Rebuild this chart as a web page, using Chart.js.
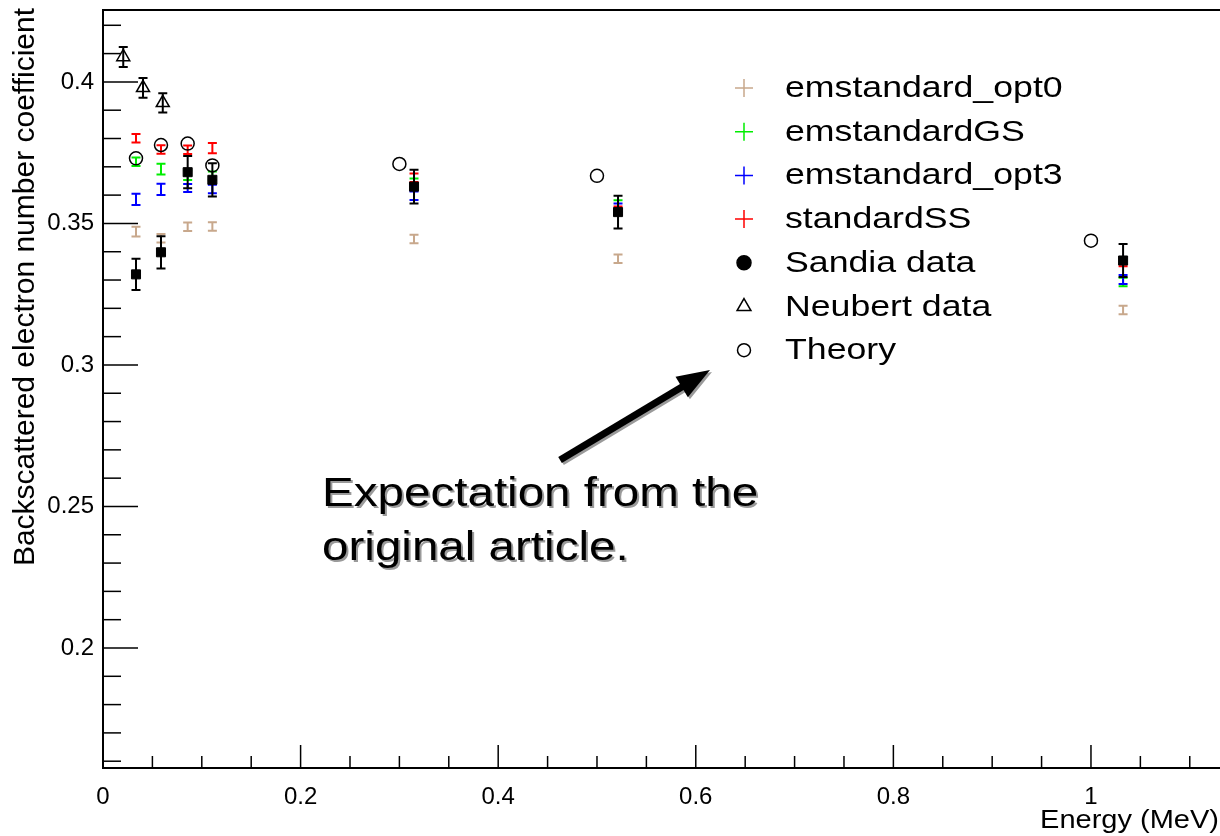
<!DOCTYPE html>
<html>
<head>
<meta charset="utf-8">
<script src="https://cdn.jsdelivr.net/npm/chart.js@4.4.1/dist/chart.umd.min.js"></script>
<style>
  body { margin: 0; background: #fff; }
  #wrap { width: 1220px; height: 836px; }
</style>
</head>
<body>
<div id="wrap"><canvas id="backscatter" width="1220" height="836"></canvas></div>
<script>
// beam energies (MeV) of the Sandia points, the simulations were run at the same energies
const energies = [0.0334, 0.0587, 0.0857, 0.1107, 0.3148, 0.5213, 1.0325];

const opt0 = [0.3471, 0.3448, 0.3488, 0.3489, 0.3445, 0.3375, 0.3194];
const opt0Err = [0.0017, 0.0015, 0.0015, 0.0015, 0.0015, 0.0015, 0.0015];

const gs = [0.3718, 0.3692, 0.3670, 0.3668, 0.3644, 0.3567, 0.3293];
const gsErr = [0.0015, 0.0019, 0.0017, 0.0015, 0.0015, 0.0015, 0.0015];

const opt3 = [0.3585, 0.3620, 0.3625, 0.3622, 0.3598, 0.3555, 0.3302];
const opt3Err = [0.0020, 0.0020, 0.0014, 0.0015, 0.0015, 0.0015, 0.0016];

const ss = [0.3801, 0.3761, 0.3760, 0.3766, 0.3661, 0.3545, 0.3364];
const ssErr = [0.0015, 0.0015, 0.0015, 0.0018, 0.0015, 0.0015, 0.0015];

const sandia = [0.3320, 0.3398, 0.3681, 0.3654, 0.3630, 0.3540, 0.3369];
const sandiaErr = [0.0055, 0.0057, 0.0057, 0.0059, 0.0060, 0.0058, 0.0058];

const neubertEnergies = [0.0205, 0.0405, 0.0605];
const neubert = [0.4088, 0.3979, 0.3926];
const neubertErr = [0.0035, 0.0035, 0.0034];

const theoryEnergies = [0.0334, 0.0587, 0.0857, 0.1107, 0.3, 0.5, 1.0];
const theory = [0.3730, 0.3777, 0.3782, 0.3705, 0.3710, 0.3668, 0.3439];

const xTickLabels = ['0', '0.2', '0.4', '0.6', '0.8', '1'];
const yTickLabels = ['0.2', '0.25', '0.3', '0.35', '0.4'];

// axis ranges
const X_MIN = 0, X_MAX = 1.1306;
const Y_MIN = 0.1576, Y_MAX = 0.4254;

const FONT = '"Liberation Sans", Arial, Helvetica, sans-serif';
const CAP = 4.5;     // half width of error bar caps

function pts(xs, ys) {
  return xs.map((x, i) => ({ x: x, y: ys[i] }));
}

// text with an optional horizontal stretch (sx), rotated text is never stretched
function wideText(ctx, str, x, y, size, sx, align, base, rot) {
  ctx.save();
  ctx.translate(x, y);
  if (rot) ctx.rotate(rot);
  else ctx.scale(sx, 1);
  ctx.font = size + 'px ' + FONT;
  ctx.textAlign = align;
  ctx.textBaseline = base;
  ctx.fillText(str, 0, 0);
  ctx.restore();
}

function label(v) {
  return String(+v.toFixed(3));
}

// vertical error bars with caps, drawn under each dataset's markers
const errorBars = {
  id: 'errorBars',
  beforeDatasetDraw(chart, args) {
    const ds = chart.data.datasets[args.index];
    if (!ds.errors) return;
    const ctx = chart.ctx, x = chart.scales.x, y = chart.scales.y;
    ctx.save();
    ctx.strokeStyle = ds.barColor;
    ctx.lineWidth = 2;
    ds.data.forEach((p, i) => {
      const px = x.getPixelForValue(p.x);
      const top = y.getPixelForValue(p.y + ds.errors[i]);
      const bot = y.getPixelForValue(p.y - ds.errors[i]);
      ctx.beginPath();
      ctx.moveTo(px, top); ctx.lineTo(px, bot);
      ctx.moveTo(px - CAP, top); ctx.lineTo(px + CAP, top);
      ctx.moveTo(px - CAP, bot); ctx.lineTo(px + CAP, bot);
      ctx.stroke();
    });
    ctx.restore();
  }
};

// ROOT style frame: inward ticks, top line, labels and titles
const frame = {
  id: 'frame',
  afterDraw(chart) {
    const ctx = chart.ctx, a = chart.chartArea;
    const x = chart.scales.x, y = chart.scales.y;
    ctx.save();
    ctx.strokeStyle = '#000';
    ctx.fillStyle = '#000';
    ctx.lineWidth = 2;
    ctx.beginPath();
    ctx.moveTo(a.left, a.top); ctx.lineTo(a.right, a.top);
    ctx.stroke();

    ctx.lineWidth = 1.5;
    y.ticks.forEach(t => {
      const py = y.getPixelForValue(t.value);
      const major = yTickLabels.includes(label(t.value));
      ctx.beginPath();
      ctx.moveTo(a.left, py); ctx.lineTo(a.left + (major ? 35 : 18), py);
      ctx.stroke();
      if (major) wideText(ctx, label(t.value), 94, py, 24, 1, 'right', 'middle');
    });
    x.ticks.forEach(t => {
      const px = x.getPixelForValue(t.value);
      const major = xTickLabels.includes(label(t.value));
      ctx.beginPath();
      ctx.moveTo(px, a.bottom); ctx.lineTo(px, a.bottom - (major ? 23 : 12));
      ctx.stroke();
      if (major) wideText(ctx, label(t.value), px, 797, 24, 1, 'center', 'middle');
    });

    wideText(ctx, 'Energy (MeV)', 1219, 821, 25, 1.16, 'right', 'middle');
    wideText(ctx, 'Backscattered electron number coefficient', 26, 8, 30, 1, 'right', 'middle', -Math.PI / 2);
    ctx.restore();
  }
};

// legend in the upper right of the plot
const legendBox = {
  id: 'legendBox',
  afterDraw(chart) {
    const ctx = chart.ctx;
    chart.data.datasets.forEach((ds, i) => {
      const cy = 88 + i * 43.7;
      ctx.save();
      ctx.strokeStyle = ds.barColor;
      ctx.fillStyle = ds.legendFill;
      ctx.lineWidth = 1.5;
      Chart.helpers.drawPoint(ctx, {
        pointStyle: ds.legendStyle, radius: ds.legendRadius, rotation: 0, borderWidth: 1.5
      }, 744, cy);
      ctx.fillStyle = '#000';
      wideText(ctx, ds.label, 785, cy + 1, 29, 1.23, 'left', 'middle');
      ctx.restore();
    });
  }
};

// arrow with its caption
const note = {
  lines: ['Expectation from the', 'original article.'],
  at: { x: 0.2217, y: 0.2502 },
  tail: { x: 0.4626, y: 0.2664 },
  tip: { x: 0.6144, y: 0.2982 }
};

const annotation = {
  id: 'annotation',
  afterDraw(chart) {
    const ctx = chart.ctx, x = chart.scales.x, y = chart.scales.y;
    const tx = x.getPixelForValue(note.tail.x), ty = y.getPixelForValue(note.tail.y);
    const hx = x.getPixelForValue(note.tip.x), hy = y.getPixelForValue(note.tip.y);
    const ang = Math.atan2(hy - ty, hx - tx);
    const len = Math.hypot(hx - tx, hy - ty);

    function arrow(dx, dy, color) {
      ctx.save();
      ctx.translate(tx + dx, ty + dy);
      ctx.rotate(ang);
      ctx.strokeStyle = color;
      ctx.fillStyle = color;
      ctx.lineWidth = 7;
      ctx.beginPath();
      ctx.moveTo(0, 0); ctx.lineTo(len - 28, 0);
      ctx.stroke();
      ctx.beginPath();
      ctx.moveTo(len, 0);
      ctx.lineTo(len - 33, -12);
      ctx.lineTo(len - 33, 12);
      ctx.closePath();
      ctx.fill();
      ctx.restore();
    }
    arrow(2, 2, '#9a9a9a');
    arrow(0, 0, '#000');

    const ox = x.getPixelForValue(note.at.x), oy = y.getPixelForValue(note.at.y);
    ctx.save();
    note.lines.forEach((s, i) => {
      ctx.fillStyle = '#9a9a9a';
      wideText(ctx, s, ox + 2, oy + i * 54 + 2, 41, 1.16, 'left', 'alphabetic');
      ctx.fillStyle = '#000';
      wideText(ctx, s, ox, oy + i * 54, 41, 1.16, 'left', 'alphabetic');
    });
    ctx.restore();
  }
};

function simSet(name, values, errs, color, order) {
  return {
    label: name,
    data: pts(energies, values),
    errors: errs,
    barColor: color,
    legendStyle: 'cross',
    legendRadius: 9,
    legendFill: color,
    pointRadius: 0,
    showLine: false,
    order: order
  };
}

const ctx = document.getElementById('backscatter');

new Chart(ctx, {
  type: 'scatter',
  data: {
    datasets: [
      simSet('emstandard_opt0', opt0, opt0Err, '#c8a88c', 6),
      simSet('emstandardGS', gs, gsErr, '#00ee00', 5),
      simSet('emstandard_opt3', opt3, opt3Err, '#0000ff', 4),
      simSet('standardSS', ss, ssErr, '#ff0000', 3),
      {
        label: 'Sandia data',
        data: pts(energies, sandia),
        errors: sandiaErr,
        barColor: '#000',
        legendStyle: 'circle',
        legendRadius: 7,
        legendFill: '#000',
        pointStyle: 'rect',
        pointRadius: 6.4,
        backgroundColor: '#000',
        borderColor: '#000',
        borderWidth: 1,
        order: 0
      },
      {
        label: 'Neubert data',
        data: pts(neubertEnergies, neubert),
        errors: neubertErr,
        barColor: '#000',
        legendStyle: 'triangle',
        legendRadius: 8,
        legendFill: 'rgba(0,0,0,0)',
        pointStyle: 'triangle',
        pointRadius: 7.5,
        backgroundColor: 'rgba(0,0,0,0)',
        borderColor: '#000',
        borderWidth: 1.5,
        order: 2
      },
      {
        label: 'Theory',
        data: pts(theoryEnergies, theory),
        barColor: '#000',
        legendStyle: 'circle',
        legendRadius: 6.5,
        legendFill: 'rgba(0,0,0,0)',
        pointStyle: 'circle',
        pointRadius: 6.5,
        backgroundColor: 'rgba(0,0,0,0)',
        borderColor: '#000',
        borderWidth: 1.5,
        order: 1
      }
    ]
  },
  options: {
    responsive: false,
    animation: false,
    layout: { autoPadding: false, padding: { top: 10, right: 0, bottom: 0, left: 0 } },
    plugins: {
      legend: { display: false },
      tooltip: { enabled: false }
    },
    scales: {
      x: {
        type: 'linear',
        min: X_MIN,
        max: X_MAX,
        ticks: { stepSize: 0.05, includeBounds: false, display: false },
        grid: { display: false, drawTicks: false },
        border: { color: '#000', width: 2 },
        afterFit(s) { s.height = 68; }
      },
      y: {
        min: Y_MIN,
        max: Y_MAX,
        ticks: { stepSize: 0.01, includeBounds: false, display: false },
        grid: { display: false, drawTicks: false },
        border: { color: '#000', width: 2 },
        afterFit(s) { s.width = 103; }
      }
    }
  },
  plugins: [errorBars, frame, legendBox, annotation]
});
</script>
</body>
</html>
